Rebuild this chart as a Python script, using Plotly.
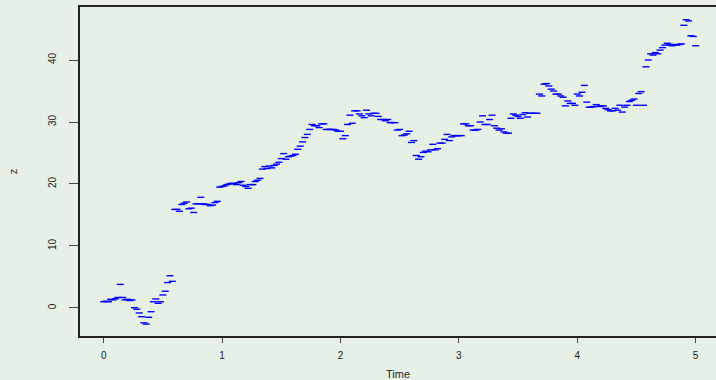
import plotly.graph_objects as go

# Sampled path z(t) on t = 0, 0.02, ..., 5
dt = 0.02
z = [
    1.0, 1.1, 1.0, 1.4, 1.3, 1.5, 1.7, 3.8, 1.7, 1.3,
    1.4, 1.2, 1.3, 0.05, -0.2, -0.8, -1.4, -2.4, -2.6, -1.5,
    -0.6, 1.0, 1.45, 0.75, 1.0, 2.1, 2.7, 4.1, 5.2, 4.3,
    15.9, 15.9, 15.6, 16.7, 16.9, 17.1, 16.0, 16.1, 15.4, 16.8,
    16.8, 17.85, 16.8, 16.7, 16.7, 16.5, 16.6, 17.0, 17.2, 19.5,
    19.6, 19.7, 19.9, 20.0, 20.1, 20.1, 19.9, 20.2, 20.4, 19.8,
    19.6, 19.3, 19.9, 19.9, 20.4, 20.6, 20.9, 22.4, 22.8, 22.5,
    22.9, 22.6, 23.0, 23.2, 23.5, 24.1, 24.9, 24.0, 24.4, 24.5,
    24.6, 24.8, 25.6, 26.1, 26.8, 27.5, 28.0, 28.8, 29.6, 29.4,
    29.4, 29.1, 29.7, 29.7, 28.8, 28.8, 28.8, 28.8, 28.7, 28.5,
    28.5, 27.3, 27.8, 29.6, 31.1, 29.8, 31.8, 31.8, 31.3, 31.0,
    30.7, 31.9, 31.3, 31.0, 31.4, 31.4, 30.9, 30.4, 30.4, 30.2,
    30.4, 29.9, 29.9, 29.9, 28.7, 28.8, 27.8, 27.9, 28.1, 28.5,
    26.7, 27.0, 24.6, 24.0, 24.4, 25.1, 25.3, 25.2, 25.5, 26.4,
    25.5, 25.7, 26.6, 26.6, 27.2, 28.0, 27.0, 27.6, 27.8, 27.8,
    27.8, 27.8, 29.7, 29.7, 29.4, 29.4, 28.7, 28.7, 28.8, 30.0,
    31.0, 29.6, 29.6, 30.4, 31.1, 29.4, 29.0, 28.7, 28.9, 28.4,
    28.2, 28.2, 30.6, 31.3, 31.1, 30.9, 30.6, 31.2, 31.5, 30.8,
    31.4, 31.4, 31.4, 31.4, 34.5, 34.2, 36.1, 36.2, 35.8, 35.3,
    35.0, 34.5, 34.5, 34.2, 34.0, 32.6, 33.4, 33.0, 33.0, 32.7,
    34.5, 34.2, 34.8, 35.9, 33.2, 32.4, 32.4, 32.5, 32.8, 32.5,
    32.6, 32.6, 32.2, 32.0, 31.8, 31.8, 32.2, 31.9, 32.7, 31.6,
    32.4, 32.7, 33.3, 33.5, 33.7, 32.7, 34.6, 34.9, 32.7, 38.9,
    40.0, 41.0, 40.8, 41.2, 41.0, 41.6, 42.0, 42.4, 42.7, 42.5,
    42.3, 42.5, 42.4, 42.5, 42.6, 45.6, 46.5, 46.3, 43.9, 43.8,
    42.3,
]
t = [round(i * dt, 4) for i in range(len(z))]

x_ticks = [0, 1, 2, 3, 4, 5]
y_ticks = [0, 10, 20, 30, 40]

bg = "#e6f0e6"
font = "Liberation Sans, Arial, sans-serif"

fig = go.Figure(
    go.Scatter(
        x=t,
        y=z,
        mode="markers",
        marker=dict(symbol="line-ew", size=5, line=dict(color="#0000ff", width=1.4)),
        hoverinfo="skip",
    )
)

fig.update_layout(
    width=716,
    height=380,
    margin=dict(l=80, r=0, t=7, b=44),
    paper_bgcolor=bg,
    plot_bgcolor=bg,
    showlegend=False,
    font=dict(family=font, size=10, color="#222222"),
    xaxis=dict(
        range=[-0.2, 5.172],
        tickvals=x_ticks,
        ticktext=[str(v) for v in x_ticks],
        ticks="outside",
        ticklen=5,
        tickwidth=1,
        tickcolor="#444444",
        showgrid=False,
        zeroline=False,
        showline=True,
        mirror=True,
        linecolor="#222222",
        linewidth=1.5,
        ticklabelstandoff=4,
        title=dict(text="Time", font=dict(size=11), standoff=11),
    ),
    yaxis=dict(
        range=[-4.52, 48.55],
        tickvals=y_ticks,
        ticktext=[str(v) for v in y_ticks],
        tickangle=-90,
        ticks="outside",
        ticklen=9,
        tickwidth=1,
        tickcolor="#444444",
        showgrid=False,
        zeroline=False,
        showline=True,
        mirror=False,
        linecolor="#222222",
        linewidth=1.5,
        ticklabelstandoff=9,
        title=dict(text="z", font=dict(size=11), standoff=27),
    ),
)

fig.write_html("out.html")
